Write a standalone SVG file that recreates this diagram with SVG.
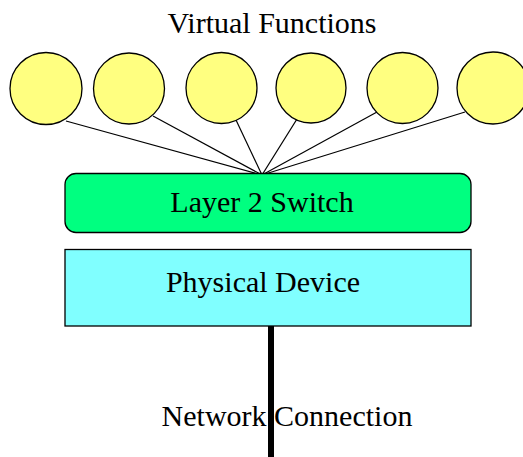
<svg xmlns="http://www.w3.org/2000/svg" width="523" height="457" viewBox="0 0 523 457">
<style>
.vf{fill:#FFFF80;stroke:#000;stroke-width:1.3}
.lnk{stroke:#000;stroke-width:1.2;fill:none}
.t{font-family:"Liberation Serif","Times New Roman",serif;font-size:30px;fill:#000;text-anchor:middle}
</style>
<rect width="523" height="457" fill="#fff"/>
<text class="t" x="272" y="33">Virtual Functions</text>
<g id="connectors">
<line class="lnk" x1="66" y1="121" x2="262" y2="175"/>
<line class="lnk" x1="153" y1="116" x2="262" y2="175"/>
<line class="lnk" x1="236" y1="120" x2="262" y2="175"/>
<line class="lnk" x1="297" y1="119" x2="262" y2="175"/>
<line class="lnk" x1="377" y1="112" x2="262" y2="175"/>
<line class="lnk" x1="465" y1="112" x2="262" y2="175"/>
<line x1="271" y1="326" x2="271" y2="457" stroke="#000" stroke-width="6" stroke-linecap="round"/>
</g>
<g id="vf1"><circle class="vf" cx="46" cy="88.5" r="36"/></g>
<g id="vf2"><circle class="vf" cx="129" cy="88.5" r="35.5"/></g>
<g id="vf3"><circle class="vf" cx="221.5" cy="88" r="35.5"/></g>
<g id="vf4"><circle class="vf" cx="311" cy="88" r="35"/></g>
<g id="vf5"><circle class="vf" cx="402.5" cy="88" r="35.5"/></g>
<g id="vf6"><circle class="vf" cx="493" cy="88" r="36"/></g>
<g id="switch">
<rect x="65" y="173.5" width="406" height="59" rx="11" fill="#00FF80" stroke="#000" stroke-width="1.3"/>
<text class="t" x="262" y="212">Layer 2 Switch</text>
</g>
<g id="physical">
<rect x="65" y="249.5" width="406" height="76.5" fill="#80FFFF" stroke="#000" stroke-width="1.3"/>
<text class="t" x="263" y="292">Physical Device</text>
</g>
<g id="network">
<text class="t" x="287" y="426">Network Connection</text>
</g>
</svg>
